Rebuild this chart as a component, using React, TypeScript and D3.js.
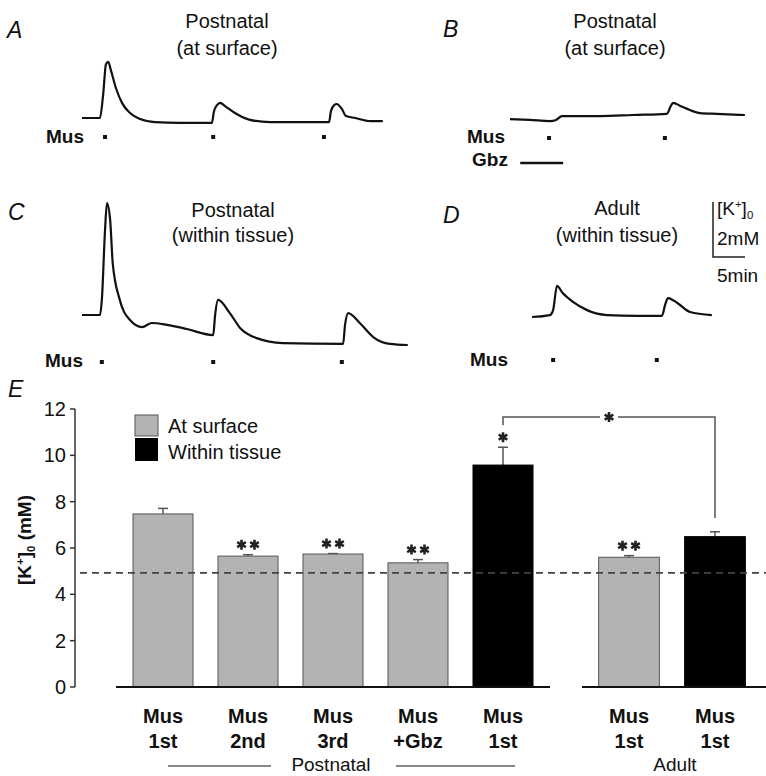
import * as d3 from "d3";

// ---- trace data: [time (min), Δ[K+]o (mM)] ----
const traceA: [number, number][] = [
  [0, 0], [2.8, 0], [3.3, 0.84], [3.75, 1.96], [4.1, 2.04], [4.5, 1.75], [5.3, 1.09],
  [6.25, 0.55], [7.5, 0.18], [9.1, -0.04], [11.4, -0.15], [15.3, -0.18], [20.3, -0.18],
  [20.6, 0.22], [21.1, 0.47], [21.6, 0.55], [22.3, 0.44], [23.9, 0.18], [26.25, -0.07],
  [29.4, -0.15], [34.1, -0.15], [38.6, -0.15], [38.9, 0.25], [39.4, 0.47], [39.8, 0.51],
  [40.6, 0.33], [41.25, 0.07], [42.7, 0], [45, -0.11], [47, -0.11],
];
const stimA = [3.6, 20.5, 37.8];

const traceB: [number, number][] = [
  [0, -0.04], [3.1, -0.07], [6.25, -0.11], [7.2, -0.07], [8.1, 0.07], [14.1, 0.07],
  [19.2, 0.11], [24.5, 0.15], [25.2, 0.47], [25.5, 0.55], [26.6, 0.44], [28.1, 0.29],
  [29.7, 0.18], [32.3, 0.15], [36.7, 0.11],
];
const stimB = [6.1, 24.2];
const gbzB = [1.6, 8.3];

const traceC: [number, number][] = [
  [0, 0], [2.8, 0], [3.1, 0.55], [3.6, 3.1], [3.9, 4.07], [4.4, 3.45], [4.8, 1.89],
  [5.9, 0.55], [7.5, -0.18], [9.4, -0.44], [10.9, -0.29], [13.3, -0.36], [16.4, -0.51],
  [20.5, -0.73], [20.8, 0], [21.25, 0.55], [23.1, 0.07], [24.7, -0.47], [27.3, -0.84],
  [31.4, -1.02], [40.8, -1.05], [41.1, -0.36], [41.6, 0.07], [43.4, -0.29], [45.5, -0.8],
  [48.1, -1.05], [50.9, -1.09],
];
const stimC = [3.1, 20.5, 40.6];

const traceD: [number, number][] = [
  [0, 0], [2.8, 0.07], [3.3, 0.25], [3.9, 1.13], [4.8, 0.87], [6.4, 0.55], [8.6, 0.25],
  [11.7, 0.07], [16.4, 0.04], [20.3, 0.04], [20.8, 0.44], [21.25, 0.69], [22.7, 0.51],
  [24.7, 0.18], [28.1, 0.07],
];
const stimD = [3.3, 19.5];

// ---- bar chart data (panel E) ----
const postnatalLabels = [["Mus", "1st"], ["Mus", "2nd"], ["Mus", "3rd"], ["Mus", "+Gbz"], ["Mus", "1st"]];
const postnatalMeans = [7.47, 5.65, 5.74, 5.36, 9.58];
const postnatalErr = [0.24, 0.06, 0.02, 0.14, 0.77];
const postnatalKind = ["surface", "surface", "surface", "surface", "tissue"];
const postnatalStars = [0, 2, 2, 2, 1];

const adultLabels = [["Mus", "1st"], ["Mus", "1st"]];
const adultMeans = [5.6, 6.49];
const adultErr = [0.07, 0.21];
const adultKind = ["surface", "tissue"];
const adultStars = [2, 0];

const yTicks = [0, 2, 4, 6, 8, 10, 12];
const restingK = 4.93;
const bracketLevel = 11.65;
const bracketLeftEnd = 11.3;
const bracketRightEnd = 7.3;

const FONT = "'Liberation Sans', Arial, Helvetica, sans-serif";
const GRAY = "#b3b3b3";

function Trace({ data, x0, y0, stims, dotY }: { data: [number, number][]; x0: number; y0: number; stims: number[]; dotY: number }) {
  const x = d3.scaleLinear().domain([0, 5]).range([x0, x0 + 32]);
  const y = d3.scaleLinear().domain([0, 2]).range([y0, y0 - 55]);
  const line = d3.line<[number, number]>().x((d) => x(d[0])).y((d) => y(d[1])).curve(d3.curveMonotoneX);
  return (
    <g>
      <path d={line(data) ?? ""} fill="none" stroke="#111" strokeWidth={2.2} strokeLinejoin="round" />
      {stims.map((t, i) => (
        <rect key={i} x={x(t) - 2} y={dotY - 2} width={4} height={4} fill="#111" />
      ))}
    </g>
  );
}

function Star({ cx, cy }: { cx: number; cy: number }) {
  const p = d3.symbol(d3.symbolAsterisk, 70)() ?? "";
  return <path d={p} transform={`translate(${cx},${cy})`} fill="none" stroke="#222" strokeWidth={2.6} />;
}

function Stars({ n, cx, cy }: { n: number; cx: number; cy: number }) {
  if (n === 0) return null;
  const offs = n === 1 ? [0] : [-6.5, 6.5];
  return <g>{offs.map((o, i) => <Star key={i} cx={cx + o} cy={cy} />)}</g>;
}

function KLabel({ x, y, size, bold, suffix, anchor }: { x: number; y: number; size: number; bold?: boolean; suffix?: string; anchor?: string }) {
  return (
    <text x={x} y={y} fontSize={size} fontWeight={bold ? "bold" : "normal"} textAnchor={anchor ?? "start"}>
      [K<tspan fontSize={size * 0.6} dy={-size * 0.35}>+</tspan>
      <tspan dy={size * 0.35}>]</tspan>
      <tspan fontSize={size * 0.6} dy={size * 0.2}>0</tspan>
      <tspan dy={-size * 0.2}>{suffix ?? ""}</tspan>
    </text>
  );
}

export default function App() {
  const y = d3.scaleLinear().domain([0, 12]).range([687, 409]);
  const xP = d3.scaleBand<number>().domain(d3.range(5)).range([120.5, 545.5]).paddingInner(0.294).paddingOuter(0.147);
  const xA = d3.scaleBand<number>().domain(d3.range(2)).range([586, 758]).paddingInner(0.294).paddingOuter(0.147);

  const bars = [
    ...postnatalMeans.map((m, i) => ({ x: xP(i)!, w: xP.bandwidth(), m, e: postnatalErr[i], k: postnatalKind[i], s: postnatalStars[i], lab: postnatalLabels[i] })),
    ...adultMeans.map((m, i) => ({ x: xA(i)!, w: xA.bandwidth(), m, e: adultErr[i], k: adultKind[i], s: adultStars[i], lab: adultLabels[i] })),
  ];
  const bL = xP(4)! + xP.bandwidth() / 2;
  const bR = xA(1)! + xA.bandwidth() / 2;
  const bMid = (bL + bR) / 2;

  return (
    <svg width={766} height={776} style={{ position: "absolute", left: 0, top: 0, background: "#fff" }} fontFamily={FONT} fill="#111">
      {/* panel letters */}
      <g fontStyle="italic" fontSize={23}>
        <text x={7} y={38}>A</text>
        <text x={443} y={37}>B</text>
        <text x={8} y={220}>C</text>
        <text x={443} y={223}>D</text>
        <text x={8} y={397}>E</text>
      </g>

      {/* panel titles */}
      <g fontSize={20} textAnchor="middle">
        <text x={227} y={28}>Postnatal</text>
        <text x={227} y={55}>(at surface)</text>
        <text x={615} y={28}>Postnatal</text>
        <text x={615} y={55}>(at surface)</text>
        <text x={233} y={217}>Postnatal</text>
        <text x={233} y={242}>(within tissue)</text>
        <text x={617} y={215}>Adult</text>
        <text x={617} y={242}>(within tissue)</text>
      </g>

      <Trace data={traceA} x0={82} y0={118} stims={stimA} dotY={137} />
      <Trace data={traceB} x0={510} y0={118} stims={stimB} dotY={138} />
      <Trace data={traceC} x0={82} y0={315} stims={stimC} dotY={362} />
      <Trace data={traceD} x0={532} y0={317} stims={stimD} dotY={360} />

      {/* Gbz bar in B */}
      {(() => {
        const x = d3.scaleLinear().domain([0, 5]).range([510, 542]);
        return <line x1={x(gbzB[0])} x2={x(gbzB[1])} y1={163} y2={163} stroke="#111" strokeWidth={2.5} />;
      })()}

      <g fontSize={19} fontWeight="bold">
        <text x={46} y={143}>Mus</text>
        <text x={467} y={143}>Mus</text>
        <text x={472} y={166}>Gbz</text>
        <text x={45} y={367}>Mus</text>
        <text x={470} y={366}>Mus</text>
      </g>

      {/* scale bar */}
      <path d="M713,202V257H745" fill="none" stroke="#222" strokeWidth={1.5} />
      <KLabel x={717} y={215} size={19} />
      <text x={717} y={245} fontSize={19}>2mM</text>
      <text x={717} y={282} fontSize={19}>5min</text>

      {/* panel E axis */}
      <line x1={75} x2={75} y1={y(12)} y2={y(0)} stroke="#333" strokeWidth={1.5} />
      {yTicks.map((t) => (
        <g key={t}>
          <line x1={70} x2={75} y1={y(t)} y2={y(t)} stroke="#333" strokeWidth={1.5} />
          <text x={66} y={y(t) + 7} fontSize={20} textAnchor="end">{t}</text>
        </g>
      ))}
      <g transform="translate(31,540) rotate(-90)">
        <KLabel x={0} y={0} size={19} bold suffix=" (mM)" anchor="middle" />
      </g>

      {/* legend */}
      <rect x={135} y={415} width={23} height={21} fill={GRAY} stroke="#555" strokeWidth={1} />
      <rect x={135} y={438} width={23} height={23} fill="#000" />
      <text x={168} y={433} fontSize={20}>At surface</text>
      <text x={168} y={459} fontSize={20}>Within tissue</text>

      {/* bars */}
      {bars.map((b, i) => (
        <g key={i}>
          <line x1={b.x + b.w / 2} x2={b.x + b.w / 2} y1={y(b.m)} y2={y(b.m + b.e)} stroke="#555" strokeWidth={1.5} />
          <line x1={b.x + b.w / 2 - 5} x2={b.x + b.w / 2 + 5} y1={y(b.m + b.e)} y2={y(b.m + b.e)} stroke="#555" strokeWidth={1.5} />
          <rect x={b.x} y={y(b.m)} width={b.w} height={y(0) - y(b.m)} fill={b.k === "surface" ? GRAY : "#000"} stroke={b.k === "surface" ? "#555" : "#000"} strokeWidth={1} />
          <Stars n={b.s} cx={b.x + b.w / 2} cy={y(b.m + b.e) - 10} />
          <text x={b.x + b.w / 2} y={723} fontSize={20} fontWeight="bold" textAnchor="middle">{b.lab[0]}</text>
          <text x={b.x + b.w / 2} y={748} fontSize={20} fontWeight="bold" textAnchor="middle">{b.lab[1]}</text>
        </g>
      ))}

      {/* resting level */}
      <line x1={80} x2={766} y1={y(restingK)} y2={y(restingK)} stroke="#444" strokeWidth={1.8} strokeDasharray="7,5" />

      {/* baselines */}
      <line x1={116} x2={550} y1={y(0)} y2={y(0)} stroke="#111" strokeWidth={2} />
      <line x1={582} x2={766} y1={y(0)} y2={y(0)} stroke="#111" strokeWidth={2} />

      {/* comparison bracket */}
      <path d={`M${bL},${y(bracketLeftEnd)}V${y(bracketLevel)}H${bMid - 9}M${bMid + 9},${y(bracketLevel)}H${bR}V${y(bracketRightEnd)}`} fill="none" stroke="#555" strokeWidth={1.5} />
      <Star cx={bMid} cy={y(bracketLevel)} />

      {/* group labels */}
      <line x1={168} x2={271} y1={766} y2={766} stroke="#888" strokeWidth={2} />
      <line x1={396} x2={515} y1={766} y2={766} stroke="#888" strokeWidth={2} />
      <text x={331} y={771} fontSize={19} textAnchor="middle">Postnatal</text>
      <text x={675} y={771} fontSize={19} textAnchor="middle">Adult</text>
    </svg>
  );
}
